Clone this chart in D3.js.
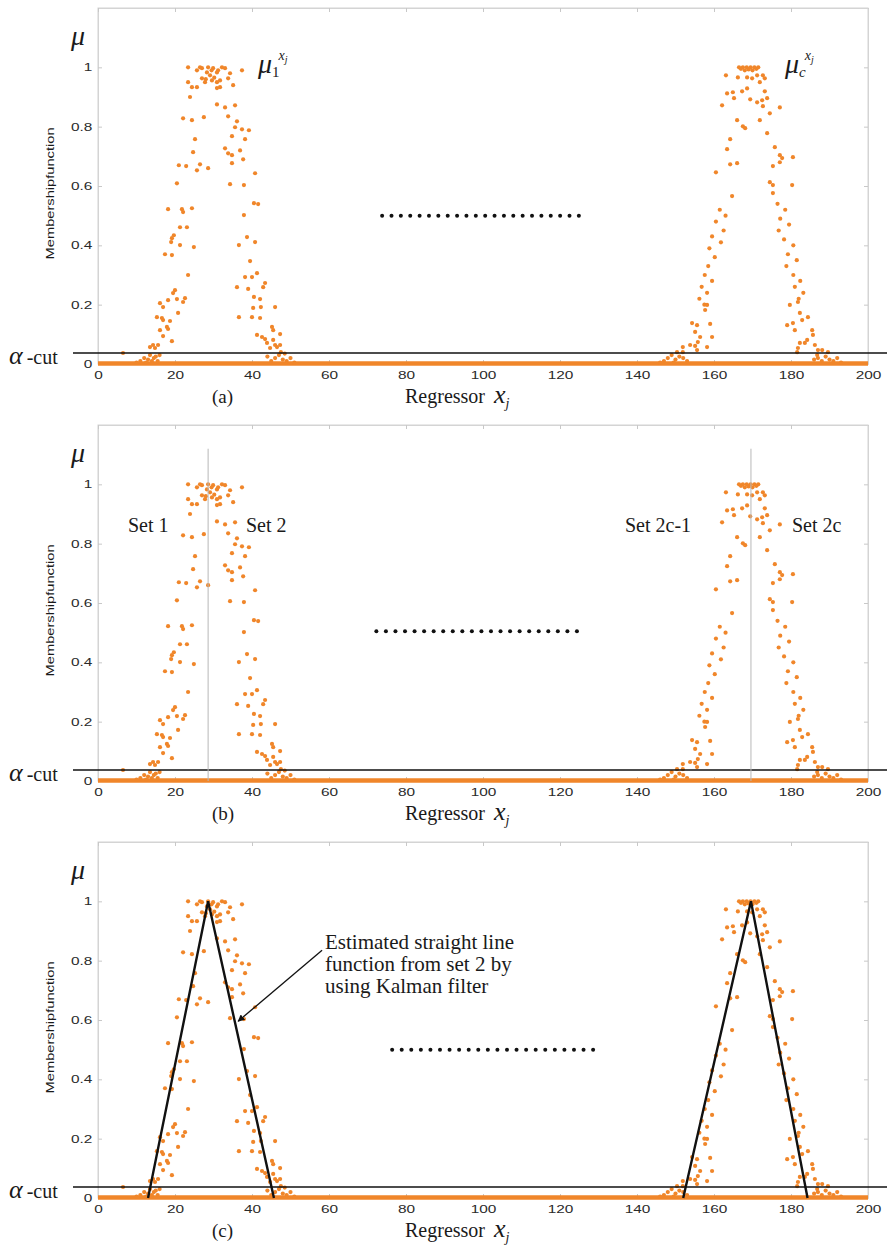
<!DOCTYPE html>
<html lang="en">
<head>
<meta charset="UTF-8">
<title>Membership functions</title>
<script src="https://d3js.org/d3.v7.min.js"></script>
<style>
  body { margin: 0; background: #fff; }
  svg { display: block; }
  .tick text { font-family: "Liberation Sans", Arial, sans-serif; font-size: 11px; fill: #2a2a2a; }
  .serif { font-family: "Liberation Serif", "Times New Roman", serif; fill: #1a1a1a; }
</style>
</head>
<body>
<div id="chart"></div>
<script>
// axis ticks
const xTicks = [0, 20, 40, 60, 80, 100, 120, 140, 160, 180, 200];
const yTicks = [0, 0.2, 0.4, 0.6, 0.8, 1];
const panelLabels = ["(a)", "(b)", "(c)"];

// scatter of membership values, first cluster [x, mu]
const peak1 = [
  [23.4,1.0],[25.7,0.99],[27.0,0.997],[28.3,0.983],[29.1,0.973],[29.9,0.997],[30.9,0.983],[32.2,1.0],[34.3,0.98],[37.4,0.99],
  [23.4,0.95],[24.4,0.933],[25.7,0.933],[27.0,0.963],[27.8,0.95],[29.6,0.956],[30.9,0.95],[31.7,0.956],[30.9,0.93],[31.7,0.933],
  [33.8,0.963],[35.1,0.94],[23.9,0.9],[26.5,1.0],[28.6,1.0],[29.5,0.99],[31.2,0.99],[33.0,0.997],[28.0,0.96],[30.2,0.965],
  [30.9,0.875],[33.0,0.865],[35.6,0.872],
  [22.1,0.828],[24.4,0.822],[27.5,0.832],[33.8,0.835],[36.1,0.818],[35.6,0.798],[37.4,0.791],[39.2,0.788],
  [25.2,0.758],[24.7,0.714],[34.8,0.768],[38.2,0.758],[33.0,0.727],[33.8,0.71],[34.8,0.704],[36.9,0.72],[37.7,0.69],[34.8,0.677],
  [21.0,0.67],[22.9,0.667],[26.5,0.673],[25.7,0.653],[28.6,0.66],[40.8,0.643],
  [20.5,0.609],[34.3,0.606],[37.9,0.603],
  [18.2,0.522],[21.8,0.522],[22.1,0.512],[24.4,0.525],[40.5,0.542],[41.6,0.539],[37.9,0.502],
  [21.3,0.461],[23.1,0.461],
  [19.7,0.434],[19.2,0.424],[19.0,0.411],[21.3,0.401],[24.9,0.394],[38.7,0.428],[40.8,0.411],[36.6,0.401],
  [17.4,0.37],[19.2,0.367],[39.5,0.347],[23.4,0.3],
  [38.2,0.293],[40.0,0.293],[41.3,0.306],[43.4,0.273],[42.9,0.259],[36.1,0.259],[39.0,0.253],[40.5,0.226],[42.1,0.219],
  [42.3,0.192],[46.0,0.192],[40.3,0.189],[36.6,0.158],[40.0,0.158],[42.1,0.155],
  [20.0,0.249],[19.5,0.239],[18.2,0.215],[20.5,0.219],[22.6,0.222],[22.1,0.209],[16.1,0.205],[16.9,0.192],[20.8,0.172],
  [15.3,0.158],[16.6,0.155],[16.9,0.148],[18.7,0.145],[16.1,0.114],[17.9,0.125],[18.2,0.118],[16.9,0.094],[19.2,0.077],
  [14.3,0.064],[13.5,0.057],[15.6,0.064],[14.8,0.054],[6.5,0.037],
  [45.2,0.125],[45.5,0.114],[47.3,0.101],[41.3,0.098],[42.6,0.091],[43.4,0.084],[45.5,0.081],[43.9,0.071],[46.0,0.064],
  [47.3,0.064],[44.7,0.054],[46.5,0.057]
];

// second cluster
const peak2 = [
  [166.5,1.0],[167.5,1.0],[168.5,1.0],[169.5,1.0],[170.5,1.0],[171.5,1.0],[167,0.995],[169,0.993],[171,0.995],[168,0.99],[170,0.99],
  [163.1,0.973],[166.2,0.966],[168.6,0.966],[169.9,0.963],[171.2,0.973],[172.7,0.973],[171.9,0.95],[173.2,0.963],
  [163.4,0.912],[164.9,0.916],[167.3,0.919],[168.6,0.929],[173.2,0.919],[165.2,0.896],[169.4,0.892],[171.2,0.882],
  [172.5,0.889],[173.8,0.896],[172.7,0.869],[174.5,0.845],[177.1,0.865],[162.1,0.872],
  [166.0,0.822],[167.5,0.801],[168.1,0.795],[171.9,0.822],[173.8,0.778],
  [164.2,0.758],[163.4,0.724],[175.8,0.731],[177.1,0.704],[177.7,0.694],[180.5,0.697],[177.1,0.68],[175.3,0.667],[164.2,0.673],[166.0,0.677],
  [160.5,0.646],[174.5,0.613],[175.3,0.603],[180.3,0.603],[164.7,0.566],[175.3,0.576],
  [161.5,0.52],[163,0.50],[160.5,0.48],[162.5,0.45],[159.5,0.43],[161.8,0.41],[158.8,0.39],[160.2,0.36],[158.5,0.33],
  [157.6,0.30],[159.5,0.28],[156.8,0.26],[158.2,0.24],[156.2,0.22],[157.5,0.20],
  [176.5,0.54],[178.5,0.52],[177.2,0.49],[179.5,0.47],[176.8,0.45],[178.2,0.42],[180.6,0.40],[179.2,0.37],[181.5,0.35],
  [178.8,0.33],[180.6,0.30],[182.4,0.28],[181.0,0.26],[183.2,0.24],[182.0,0.22],
  [154.3,0.138],[155.6,0.131],[158.2,0.199],[157.7,0.182],[159.0,0.135],[155.1,0.108],[156.4,0.091],[155.8,0.074],
  [155.1,0.061],[153.8,0.064],[151.9,0.057],[150.4,0.04],[151.9,0.04],[158.2,0.057],[155.6,0.047],[159.5,0.091],
  [179.7,0.199],[181.8,0.209],[182.3,0.172],[182.9,0.148],[184.4,0.158],[180.5,0.138],[179.0,0.131],[181.0,0.114],
  [185.5,0.114],[185.7,0.098],[182.3,0.071],[183.6,0.071],[184.2,0.081],[181.8,0.054],[186.2,0.064],[187.0,0.047],
  [188.1,0.047],[189.6,0.04],[186.8,0.03],[181.6,0.04]
];

// points just above zero at the feet of the clusters
const nearZero = [
  [10,0.005],[11,0.01],[12,0.02],[12.5,0.005],[13,0.015],[13.5,0.03],[14,0.01],[14.5,0.02],[15,0.025],[15.5,0.01],[16,0.03],
  [44,0.025],[45,0.01],[46,0.02],[47,0.03],[47.5,0.04],[48,0.015],[48.5,0.035],[49,0.01],[50,0.02],[51,0.005],
  [146,0.005],[147,0.01],[148,0.02],[149,0.03],[149.5,0.005],[150,0.015],[151,0.025],[152,0.02],[153,0.01],
  [186,0.015],[187,0.02],[188,0.01],[189,0.025],[190,0.015],[191,0.01],[192,0.02],[193,0.005]
];

// the long run of zeros along the whole regressor range
const zeroRun = [0, 200];
const alphaCut = 0.037;
const alphaSpan = [-6.5, 205];
const setSplits = [28.6, 169.6];
const splitTop = 1.12;
const triangles = [
  [[13, 0], [28.6, 1], [45.7, 0]],
  [[152, 0], [169.6, 1], [184.3, 0]]
];
const arrowPts = [[58.2, 0.835], [36.4, 0.596]];
const ellipsis = [[73.8, 124.9, 0.5], [72.3, 124.4, 0.505], [76.4, 128.6, 0.5]];
const setLabels = [["Set 1", 128], ["Set 2", 246], ["Set 2c-1", 625], ["Set 2c", 792]];
const noteLines = ["Estimated straight line", "function from set 2 by", "using Kalman filter"];

const W = 887, H = 1246, panelStep = 417;
const orange = "#f0862a";

const svg = d3.select("#chart").append("svg")
  .attr("width", W).attr("height", H);

svg.append("defs").append("marker")
  .attr("id", "arrow")
  .attr("viewBox", "0 0 10 10")
  .attr("refX", 9).attr("refY", 5)
  .attr("markerWidth", 7).attr("markerHeight", 7)
  .attr("markerUnits", "userSpaceOnUse")
  .attr("orient", "auto")
  .append("path").attr("d", "M0,0 L10,5 L0,10 z").attr("fill", "#111");

const x = d3.scaleLinear().domain([0, 200]).range([98, 868]);
const y = d3.scaleLinear().domain([0, 1.2]).range([364, 8]);

panelLabels.forEach((lab, p) => {
  const g = svg.append("g").attr("transform", `translate(0,${p * panelStep})`);

  // frame
  g.append("rect")
    .attr("x", x(0)).attr("y", y(1.2))
    .attr("width", x(200) - x(0)).attr("height", y(0) - y(1.2))
    .attr("fill", "none").attr("stroke", "#d4d4d4");

  // axes with inward ticks
  const ax = g.append("g").attr("transform", `translate(0,${y(0)})`)
    .call(d3.axisBottom(x).tickValues(xTicks).tickSizeInner(-4).tickSizeOuter(0).tickPadding(7));
  ax.selectAll("text").attr("transform", "scale(1.4,1)");
  const ay = g.append("g").attr("transform", `translate(${x(0)},0)`)
    .call(d3.axisLeft(y).tickValues(yTicks).tickFormat(d3.format("~g")).tickSizeInner(-4).tickSizeOuter(0).tickPadding(4));
  ay.selectAll("text").attr("transform", "scale(1.4,1)");
  g.append("g").attr("transform", `translate(0,${y(1.2)})`)
    .call(d3.axisTop(x).tickValues(xTicks).tickSizeInner(-4).tickSizeOuter(0).tickFormat(""));
  g.append("g").attr("transform", `translate(${x(200)},0)`)
    .call(d3.axisRight(y).tickValues(yTicks).tickSizeInner(-4).tickSizeOuter(0).tickFormat(""));
  g.selectAll(".domain").attr("stroke", "#d4d4d4");
  g.selectAll(".tick line").attr("stroke", "#c8c8c8");

  // y label
  g.append("text")
    .attr("transform", `translate(54,${(y(0.3) + y(0.85)) / 2}) rotate(-90)`)
    .attr("text-anchor", "middle")
    .attr("textLength", 132).attr("lengthAdjust", "spacingAndGlyphs")
    .style("font-family", "Liberation Sans, Arial, sans-serif")
    .style("font-size", "11px").style("fill", "#1a1a1a")
    .text("Membershipfunction");

  // zero run
  g.append("line")
    .attr("x1", x(zeroRun[0])).attr("x2", x(zeroRun[1]))
    .attr("y1", y(0) - 0.5).attr("y2", y(0) - 0.5)
    .attr("stroke", orange).attr("stroke-width", 4.5);

  // scatter
  g.append("g").selectAll("circle")
    .data(peak1.concat(peak2, nearZero))
    .join("circle")
    .attr("cx", d => x(d[0])).attr("cy", d => y(d[1]))
    .attr("r", 2.1)
    .attr("fill", orange);

  // alpha cut
  g.append("line")
    .attr("x1", x(alphaSpan[0])).attr("x2", x(alphaSpan[1]))
    .attr("y1", y(alphaCut)).attr("y2", y(alphaCut))
    .attr("stroke", "#111").attr("stroke-width", 1.6);

  const ac = g.append("text").attr("class", "serif").attr("x", 9).attr("y", 364);
  ac.append("tspan").style("font-style", "italic").style("font-size", "26px").text("α");
  ac.append("tspan").attr("dx", 4).style("font-size", "20px").text("-cut");

  // mu
  g.append("text").attr("class", "serif").attr("x", 71).attr("y", 45)
    .style("font-style", "italic").style("font-size", "28px").text("μ");

  // dotted ellipsis
  const e = ellipsis[p];
  g.append("g").selectAll("circle")
    .data(d3.range(22).map(i => e[0] + (e[1] - e[0]) * i / 21))
    .join("circle")
    .attr("cx", d => x(d)).attr("cy", y(e[2]))
    .attr("r", 2).attr("fill", "#111");

  // caption
  g.append("text").attr("class", "serif").attr("x", 212).attr("y", 403)
    .style("font-size", "19px").text(lab);
  const rg = g.append("text").attr("class", "serif").attr("x", 405).attr("y", 403)
    .style("font-size", "20px");
  rg.append("tspan").text("Regressor ");
  rg.append("tspan").attr("dx", 4).style("font-style", "italic").style("font-size", "26px").text("x");
  rg.append("tspan").attr("dy", 5).style("font-style", "italic").style("font-size", "14px").text("j");

  if (p === 0) {
    [[258, "1"], [785, "c"]].forEach(([px, sub]) => {
      const t = g.append("text").attr("class", "serif").attr("x", px).attr("y", 73);
      t.append("tspan").style("font-style", "italic").style("font-size", "28px").text("μ");
      t.append("tspan").attr("dy", 4).style("font-size", "15px")
        .style("font-style", sub === "c" ? "italic" : "normal").text(sub);
      t.append("tspan").attr("dy", -17).attr("dx", -1).style("font-style", "italic").style("font-size", "14px").text("x");
      t.append("tspan").attr("dy", 3).style("font-style", "italic").style("font-size", "10px").text("j");
    });
  }

  if (p === 1) {
    g.append("g").selectAll("line")
      .data(setSplits)
      .join("line")
      .attr("x1", d => x(d)).attr("x2", d => x(d))
      .attr("y1", y(0)).attr("y2", y(splitTop))
      .attr("stroke", "#b8b8b8").attr("stroke-width", 1);
    g.append("g").selectAll("text")
      .data(setLabels)
      .join("text")
      .attr("class", "serif")
      .attr("x", d => d[1]).attr("y", 115)
      .style("font-size", "20px")
      .text(d => d[0]);
  }

  if (p === 2) {
    const line = d3.line().x(d => x(d[0])).y(d => y(d[1]));
    g.append("g").selectAll("path")
      .data(triangles)
      .join("path")
      .attr("d", line)
      .attr("fill", "none").attr("stroke", "#111").attr("stroke-width", 2.4)
      .attr("stroke-linejoin", "miter");
    g.append("path")
      .attr("d", line(arrowPts))
      .attr("stroke", "#111").attr("stroke-width", 1.3)
      .attr("marker-end", "url(#arrow)");
    g.append("g").selectAll("text")
      .data(noteLines)
      .join("text")
      .attr("class", "serif")
      .attr("x", 325).attr("y", (d, i) => 115 + i * 22)
      .style("font-size", "21px")
      .text(d => d);
  }
});
</script>
</body>
</html>
